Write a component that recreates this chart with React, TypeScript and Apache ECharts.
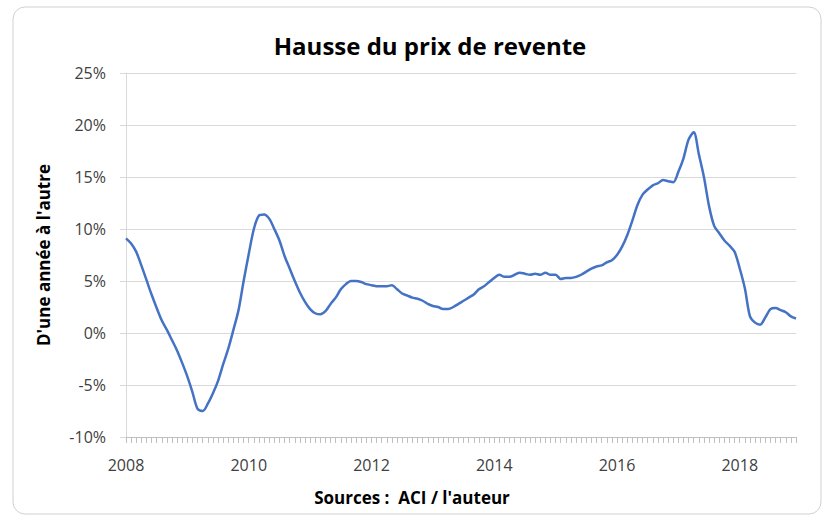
import React, { useEffect, useRef } from "react";
import * as echarts from "echarts";

const years = [2008, 2009, 2010, 2011, 2012, 2013, 2014, 2015, 2016, 2017, 2018];
const months = ["01", "02", "03", "04", "05", "06", "07", "08", "09", "10", "11", "12"];
const categories: string[] = [];
years.forEach((y) => months.forEach((m) => categories.push(`${y}-${m}`)));

const growth = [
  9.1, 8.6, 7.8, 6.5, 5.1, 3.7, 2.4, 1.2, 0.3, -0.7, -1.7, -2.9,
  -4.2, -5.7, -7.3, -7.5, -6.8, -5.8, -4.6, -3.0, -1.5, 0.3, 2.2, 5.0,
  7.6, 10.0, 11.3, 11.4, 11.0, 10.0, 8.9, 7.4, 6.2, 5.0, 3.9, 3.0,
  2.3, 1.9, 1.8, 2.1, 2.8, 3.4, 4.2, 4.7, 5.0, 5.0, 4.9, 4.7,
  4.6, 4.5, 4.5, 4.5, 4.6, 4.2, 3.8, 3.6, 3.4, 3.3, 3.1, 2.8,
  2.6, 2.5, 2.3, 2.3, 2.5, 2.8, 3.1, 3.4, 3.7, 4.2, 4.5, 4.9,
  5.3, 5.6, 5.4, 5.4, 5.6, 5.8, 5.7, 5.6, 5.7, 5.6, 5.8, 5.6,
  5.6, 5.2, 5.3, 5.3, 5.4, 5.6, 5.9, 6.2, 6.4, 6.5, 6.8, 7.0,
  7.5, 8.3, 9.4, 10.8, 12.3, 13.3, 13.8, 14.2, 14.4, 14.7, 14.6, 14.5,
  15.5, 16.8, 18.6, 19.3, 17.2, 15.0, 12.2, 10.3, 9.6, 8.9, 8.4, 7.8,
  6.2, 4.3, 1.6, 1.0, 0.8, 1.5, 2.3, 2.4, 2.2, 2.0, 1.6, 1.4,
];

const titleText = "Hausse du prix de revente";
const yName = "D'une année à l'autre";
const sourceText = "Sources :  ACI / l'auteur";

const FONT = "'Open Sans', 'Liberation Sans', sans-serif";

export default function App() {
  const ref = useRef<HTMLDivElement>(null);
  useEffect(() => {
    if (!ref.current) return;
    const chart = echarts.init(ref.current, undefined, { renderer: "svg" });
    chart.setOption({
      animation: false,
      backgroundColor: "#ffffff",
      textStyle: { fontFamily: FONT },
      graphic: [
        {
          type: "rect",
          shape: { x: 13, y: 7, width: 808, height: 507, r: 12 },
          style: { fill: "none", stroke: "#d0d0d0", lineWidth: 1 },
          silent: true,
        },
        {
          type: "text",
          x: 430,
          y: 45,
          style: {
            text: titleText,
            font: `bold 24px ${FONT}`,
            fill: "#000000",
            align: "center",
            verticalAlign: "middle",
          },
        },
        {
          type: "text",
          x: 412,
          y: 497,
          style: {
            text: sourceText,
            font: `bold 17px ${FONT}`,
            fill: "#000000",
            align: "center",
            verticalAlign: "middle",
          },
        },
      ],
      grid: { left: 126, right: 33, top: 73, bottom: 84, containLabel: false },
      xAxis: {
        type: "category",
        data: categories,
        boundaryGap: false,
        axisLine: { show: true, onZero: false, lineStyle: { color: "#bfbfbf", width: 1 } },
        axisTick: { show: true, interval: 0, length: 6, lineStyle: { color: "#bfbfbf" } },
        axisLabel: {
          interval: 23,
          margin: 20,
          color: "#404040",
          fontSize: 16,
          fontFamily: FONT,
          formatter: (v: string) => v.slice(0, 4),
        },
        splitLine: { show: false },
      },
      yAxis: {
        type: "value",
        min: -10,
        max: 25,
        interval: 5,
        name: yName,
        nameLocation: "middle",
        nameGap: 74,
        nameRotate: 90,
        nameTextStyle: { fontFamily: FONT, fontSize: 17, fontWeight: "bold", color: "#000000" },
        axisLine: { show: true, lineStyle: { color: "#d9d9d9" } },
        axisTick: { show: true, length: 6, lineStyle: { color: "#d9d9d9" } },
        axisLabel: { formatter: "{value}%", color: "#404040", fontSize: 16, fontFamily: FONT, margin: 20 },
        splitLine: { lineStyle: { color: "#d9d9d9", width: 1 } },
      },
      series: [
        {
          type: "line",
          data: growth,
          smooth: 0.3,
          symbol: "none",
          lineStyle: { color: "#4472c4", width: 2.5 },
        },
      ],
    });
    return () => chart.dispose();
  }, []);
  return <div ref={ref} style={{ position: "fixed", left: 0, top: 0, width: 829, height: 521 }} />;
}
